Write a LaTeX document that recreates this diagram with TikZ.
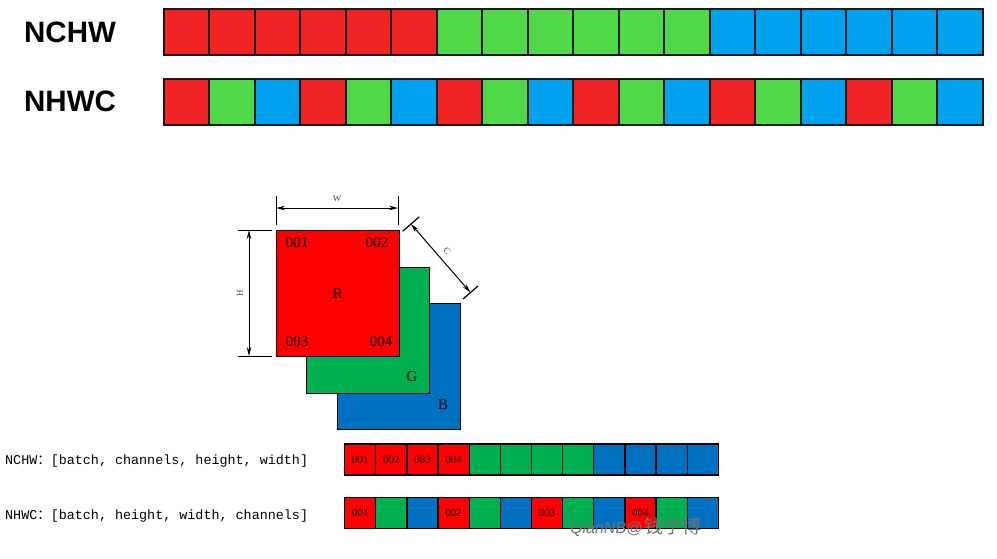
\documentclass[tikz,border=0pt]{standalone}
\usepackage{fontspec}
\setmainfont{Liberation Serif}
\setsansfont{Liberation Sans}
\setmonofont{Liberation Mono}
\newfontfamily\cjk{Noto Sans CJK SC}
\usetikzlibrary{arrows.meta,calc}

\definecolor{bigred}{HTML}{F02424}
\definecolor{biggreen}{HTML}{50D848}
\definecolor{bigblue}{HTML}{00A2F0}
\definecolor{offred}{HTML}{FF0000}
\definecolor{offgreen}{HTML}{00B050}
\definecolor{offblue}{HTML}{0070C0}

\begin{document}
\begin{tikzpicture}[x=1pt, y=-1pt,
	bigcell/.style={draw=black!90, line width=2pt, minimum width=45.6pt, minimum height=46pt, inner sep=0pt, anchor=north west},
	smallcell/.style={draw=black, line width=1.3pt, minimum width=31.14pt, minimum height=31pt, inner sep=0pt, anchor=north west, font=\fontsize{11}{11}\selectfont},
	plane/.style={draw=black, line width=1pt, minimum width=122.5pt, minimum height=126pt, inner sep=0pt, anchor=north west, font=\fontsize{15}{16}\selectfont},
	planetext/.style={font=\fontsize{15}{16}\selectfont, inner sep=0pt},
	biglabel/.style={font=\sffamily\bfseries\fontsize{29.5}{30}\selectfont, anchor=west, inner sep=0pt},
	fmttext/.style={font=\ttfamily\fontsize{13.4}{14}\selectfont, anchor=west, inner sep=0pt},
	dimlabel/.style={font=\fontsize{9}{9}\selectfont, text=black!70, inner sep=0pt},
	dim/.style={{Stealth[length=9pt,width=4.5pt]}-{Stealth[length=9pt,width=4.5pt]}, line width=1pt},
	]
	
	\fill[white] (0,0) rectangle (997,558);
	\useasboundingbox (0,0) rectangle (997,558);
	
	%-----------------------
	% Row heights
	%-----------------------
	\def\hnchw{7.5}
	\def\hnhwc{77.5}
	\def\hsnchw{443.3}
	\def\hsnhwc{496.5}
	
	%-----------------------
	% Top: big bars
	%-----------------------
	\node[biglabel] (nchw-name) at (24,32) {NCHW};
	\node[biglabel] (nhwc-name) at (24,101.5) {NHWC};
	
	\foreach \c [count=\i from 0] in {bigred,bigred,bigred,bigred,bigred,bigred,
		biggreen,biggreen,biggreen,biggreen,biggreen,biggreen,
		bigblue,bigblue,bigblue,bigblue,bigblue,bigblue}
		\node[bigcell, fill=\c] (nchw-\i) at ({162.5+45.5*\i},\hnchw) {};
	
	\foreach \c [count=\i from 0] in {bigred,biggreen,bigblue,bigred,biggreen,bigblue,
		bigred,biggreen,bigblue,bigred,biggreen,bigblue,
		bigred,biggreen,bigblue,bigred,biggreen,bigblue}
		\node[bigcell, fill=\c] (nhwc-\i) at ({162.5+45.5*\i},\hnhwc) {};
	
	%-----------------------
	% Middle: R, G, B planes
	%-----------------------
	\node[plane, fill=offblue] (B) at (337,303) {};
	\node[plane, fill=offgreen] (G) at (306,267) {};
	\node[plane, fill=offred] (R) at (276,230) {R};
	
	\node[planetext] (p001) at (297,243) {001};
	\node[planetext] (p002) at (377,243) {002};
	\node[planetext] (p003) at (297,342) {003};
	\node[planetext] (p004) at (381,342) {004};
	\node[planetext] (G-name) at (412,377) {G};
	\node[planetext] (B-name) at (443,405) {B};
	
	%-----------------------
	% Dimensions W, H, C
	%-----------------------
	\coordinate (wl-top) at (276,196);
	\coordinate (wl-bot) at (276,225);
	\coordinate (wr-top) at (398,196);
	\coordinate (wr-bot) at (398,225);
	\coordinate (wl) at (276,208);
	\coordinate (wr) at (398,208);
	\draw[line width=1pt] (wl-top) -- (wl-bot);
	\draw[line width=1pt] (wr-top) -- (wr-bot);
	\draw[dim] (wl) -- (wr);
	\node[dimlabel] (W-name) at (337,199) {W};
	
	\coordinate (ht-l) at (238,230);
	\coordinate (ht-r) at (272,230);
	\coordinate (hb-l) at (238,356);
	\coordinate (hb-r) at (272,356);
	\coordinate (ht) at (249,230);
	\coordinate (hb) at (249,356);
	\draw[line width=1pt] (ht-l) -- (ht-r);
	\draw[line width=1pt] (hb-l) -- (hb-r);
	\draw[dim] (ht) -- (hb);
	\node[dimlabel, rotate=90] (H-name) at (240,293) {H};
	
	\coordinate (c1) at (411,224);
	\coordinate (c2) at (470.5,292.5);
	\draw[dim] (c1) -- (c2);
	\draw[line width=1.2pt] ($(c1)!11pt!90:(c2)$) -- ($(c1)!11pt!-90:(c2)$);
	\draw[line width=1.2pt] ($(c2)!10pt!90:(c1)$) -- ($(c2)!10pt!-90:(c1)$);
	\node[dimlabel, rotate=-50] (C-name) at (447,251) {C};
	
	%-----------------------
	% Bottom: small bars
	%-----------------------
	\node[fmttext] (nchw-fmt) at (5,461) {NCHW{\cjk ：}[batch, channels, height, width]};
	\node[fmttext] (nhwc-fmt) at (5,516) {NHWC{\cjk ：}[batch, height, width, channels]};
	
	\foreach \c/\t [count=\i from 0] in {offred/001,offred/002,offred/003,offred/004,
		offgreen/{},offgreen/{},offgreen/{},offgreen/{},
		offblue/{},offblue/{},offblue/{},offblue/{}}
		\node[smallcell, fill=\c] (snchw-\i) at ({344+31.14*\i},\hsnchw) {\t};
	
	\foreach \c/\t [count=\i from 0] in {offred/001,offgreen/{},offblue/{},
		offred/002,offgreen/{},offblue/{},
		offred/003,offgreen/{},offblue/{},
		offred/004,offgreen/{},offblue/{}}
		\node[smallcell, fill=\c] (snhwc-\i) at ({344+31.14*\i},\hsnhwc) {\t};
	
	% watermark
	\node[anchor=west, inner sep=0pt, text=black!55] (mark) at (570,527)
		{{\sffamily\itshape\fontsize{16}{16}\selectfont QianNB@} {\cjk\fontsize{19}{19}\selectfont 钱宁博}};
	
\end{tikzpicture}
\end{document}
